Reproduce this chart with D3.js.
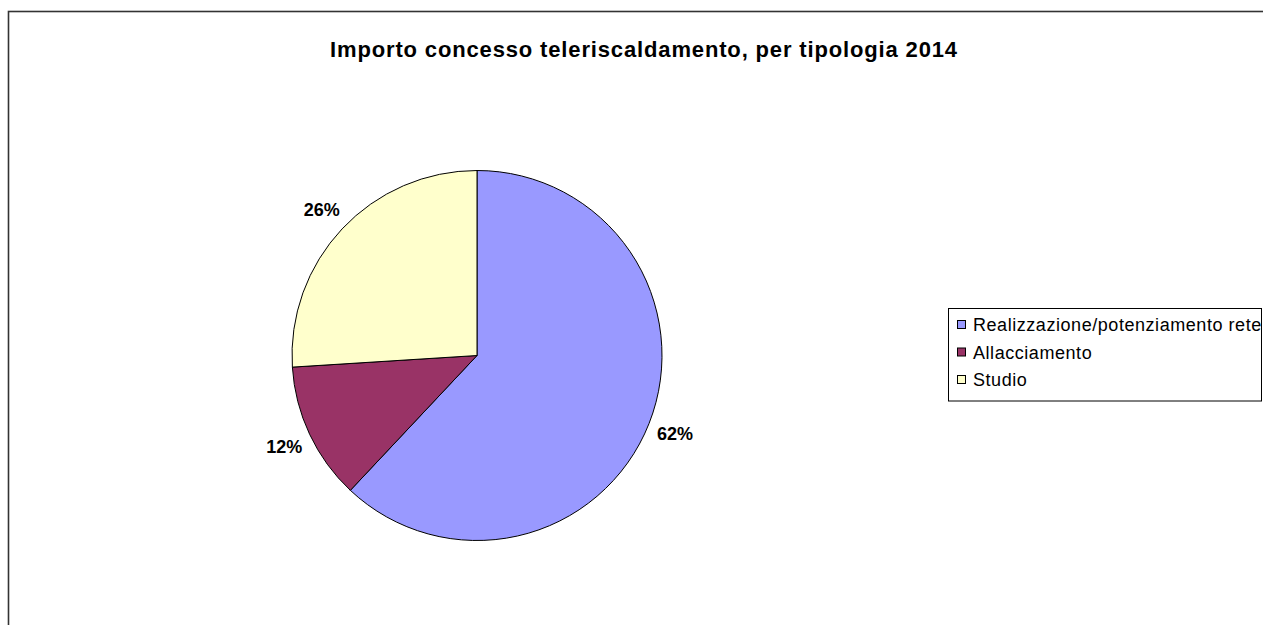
<!DOCTYPE html>
<html>
<head>
<meta charset="utf-8">
<script src="https://cdn.jsdelivr.net/npm/d3@7"></script>
<style>
  html, body { margin: 0; padding: 0; background: #fff; }
  svg { display: block; font-family: Arial, "Liberation Sans", sans-serif; }
</style>
</head>
<body>
<svg id="chart" width="1263" height="625"></svg>
<script>
// Funding granted for district heating, share by type (2014)
const title = "Importo concesso teleriscaldamento, per tipologia 2014";
const categories = ["Realizzazione/potenziamento rete", "Allacciamento", "Studio"];
const shares = [62, 12, 26];
const colors = ["#9999FF", "#993366", "#FFFFCC"];

const W = 1263, H = 625;
const svg = d3.select("#chart");

// chart area frame (runs off the right and bottom edges)
svg.append("rect")
  .attr("x", 8.5).attr("y", 11.5)
  .attr("width", W + 20).attr("height", H + 20)
  .attr("fill", "#fff")
  .attr("stroke", "#333").attr("stroke-width", 1.6);

svg.append("text")
  .attr("x", 644).attr("y", 57)
  .attr("text-anchor", "middle")
  .attr("font-weight", "bold")
  .attr("font-size", 22)
  .attr("letter-spacing", 0.85)
  .attr("fill", "#000")
  .text(title);

const cx = 477, cy = 355.5, R = 185;
const data = categories.map((c, i) => ({ name: c, value: shares[i], color: colors[i] }));

const pie = d3.pie().value(d => d.value).sort(null);
const arcs = pie(data);
const arc = d3.arc().innerRadius(0).outerRadius(R);
const labelArc = d3.arc().innerRadius(213).outerRadius(213);

const g = svg.append("g").attr("transform", `translate(${cx},${cy})`);

g.selectAll("path.slice")
  .data(arcs)
  .join("path")
  .attr("class", "slice")
  .attr("d", arc)
  .attr("fill", d => d.data.color)
  .attr("stroke", "#000")
  .attr("stroke-width", 1);

g.selectAll("text.pct")
  .data(arcs)
  .join("text")
  .attr("class", "pct")
  .attr("transform", d => `translate(${labelArc.centroid(d)})`)
  .attr("text-anchor", "middle")
  .attr("dy", "0.36em")
  .attr("font-weight", "bold")
  .attr("font-size", 18)
  .attr("fill", "#000")
  .text(d => d.data.value + "%");

// legend
const lg = svg.append("g");
lg.append("rect")
  .attr("x", 948.5).attr("y", 308.5)
  .attr("width", 313).attr("height", 92.5)
  .attr("fill", "#fff")
  .attr("stroke", "#000").attr("stroke-width", 1);

const rowY = d3.scalePoint().domain(categories).range([325, 380]);

const items = lg.selectAll("g.item")
  .data(data)
  .join("g")
  .attr("class", "item")
  .attr("transform", d => `translate(0,${rowY(d.name)})`);

items.append("rect")
  .attr("x", 957.5).attr("y", -4.5)
  .attr("width", 8).attr("height", 8)
  .attr("fill", d => d.color)
  .attr("stroke", "#000").attr("stroke-width", 1);

items.append("text")
  .attr("x", 973).attr("y", 0)
  .attr("dy", "0.36em")
  .attr("font-size", 18)
  .attr("letter-spacing", 0.55)
  .attr("fill", "#000")
  .text(d => d.name);
</script>
</body>
</html>
